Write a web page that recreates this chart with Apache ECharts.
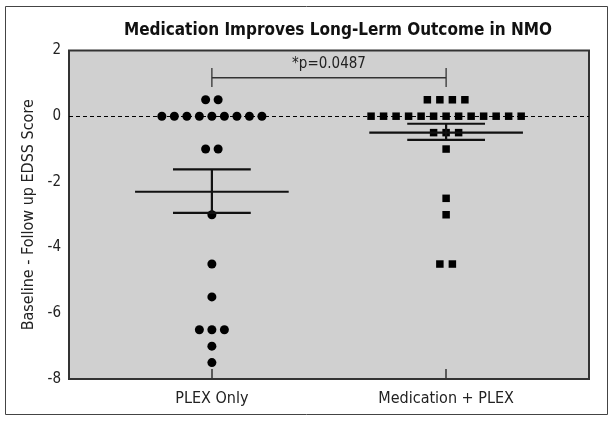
<!DOCTYPE html>
<html>
<head>
<meta charset="utf-8">
<script src="https://cdn.jsdelivr.net/npm/echarts@6/dist/echarts.min.js"></script>
<style>
html,body{margin:0;padding:0;background:#fff;}
#chart{width:613px;height:429px;}
</style>
</head>
<body>
<div id="chart"></div>
<script>
// ---- data ----
const categories = ['PLEX Only', 'Medication + PLEX'];
const plexOnly = [0.5, 0.5, 0, 0, 0, 0, 0, 0, 0, 0, 0, -1, -1, -3, -4.5, -5.5, -6.5, -6.5, -6.5, -7, -7.5];
const medPlex = [0.5, 0.5, 0.5, 0.5, 0, 0, 0, 0, 0, 0, 0, 0, 0, 0, 0, 0, 0, -0.5, -0.5, -0.5, -1, -2.5, -3, -4.5, -4.5];
const means = [-2.30, -0.50];
const semUpper = [-1.62, -0.23];
const semLower = [-2.94, -0.72];
const yTicks = [2, 0, -2, -4, -6, -8];
const pText = '*p=0.0487';
const titleText = 'Medication Improves Long-Lerm Outcome in NMO';
const yTitle = 'Baseline - Follow up EDSS Score';

const FONT = "'Liberation Sans Narrow', 'DejaVu Sans Condensed', 'Arial Narrow', sans-serif";

// beeswarm-like horizontal spread of equal values around category position
function swarm(values, catPos, step) {
  const groups = {};
  values.forEach(v => { (groups[v] = groups[v] || []).push(v); });
  const out = [];
  Object.keys(groups).forEach(k => {
    const g = groups[k];
    const n = g.length;
    g.forEach((v, i) => out.push([catPos + (i - (n - 1) / 2) * step, v]));
  });
  return out;
}
const STEP = 0.0534;

const chart = echarts.init(document.getElementById('chart'), null, {renderer: 'canvas'});

const summaryData = categories.map((c, i) => [i + 1, means[i], semUpper[i], semLower[i]]);

chart.setOption({
  animation: false,
  backgroundColor: '#ffffff',
  title: {
    text: titleText,
    left: 333,
    textAlign: 'center',
    top: 17,
    textStyle: {fontFamily: FONT, fontSize: 17, fontWeight: 'bold', color: '#111'}
  },
  graphic: [{
    type: 'rect',
    shape: {x: 5.5, y: 6.5, width: 602, height: 408},
    style: {fill: 'none', stroke: '#444', lineWidth: 1},
    silent: true,
    z: -10
  }],
  grid: {
    left: 69, right: 24, top: 50.5, bottom: 50,
    show: true, backgroundColor: '#d0d0d0', borderColor: '#333', borderWidth: 2
  },
  xAxis: {
    type: 'value',
    min: 0.39, max: 2.61,
    splitLine: {show: false},
    axisLine: {show: true, onZero: false, lineStyle: {color: '#333', width: 2}},
    axisTick: {show: true, inside: true, length: 10, customValues: [1, 2], lineStyle: {color: '#333', width: 1.5}},
    axisLabel: {
      customValues: [1, 2],
      formatter: v => categories[Math.round(v) - 1] || '',
      fontFamily: FONT, fontSize: 16, color: '#222', margin: 12
    }
  },
  yAxis: {
    type: 'value',
    min: -8, max: 2, interval: 2,
    splitLine: {show: false},
    axisLine: {show: false},
    axisTick: {show: false},
    axisLabel: {
      formatter: v => (yTicks.indexOf(v) >= 0 ? String(v) : ''),
      fontFamily: FONT, fontSize: 15, color: '#222', margin: 8
    },
    name: yTitle,
    nameLocation: 'middle',
    nameGap: 31,
    nameTextStyle: {fontFamily: FONT, fontSize: 16, color: '#222'}
  },
  series: [
    {
      type: 'scatter',
      name: categories[0],
      data: swarm(plexOnly, 1, STEP),
      symbol: 'circle',
      symbolSize: 9,
      itemStyle: {color: '#000', opacity: 1},
      z: 3,
      markLine: {
        silent: true,
        symbol: 'none',
        label: {show: false},
        lineStyle: {color: '#000', type: [4, 3], width: 1.1, opacity: 1},
        data: [{yAxis: 0}],
        z: 1
      }
    },
    {
      type: 'scatter',
      name: categories[1],
      data: swarm(medPlex, 2, STEP),
      symbol: 'rect',
      symbolSize: 7.5,
      itemStyle: {color: '#000', opacity: 1},
      z: 3
    },
    {
      type: 'custom',
      name: 'mean-sem',
      data: summaryData,
      z: 4,
      renderItem: function (params, api) {
        const x = api.value(0), m = api.value(1), up = api.value(2), lo = api.value(3);
        const MW = 0.328, CW = 0.166;
        const a = api.coord([x - MW, m]), b = api.coord([x + MW, m]);
        const c1 = api.coord([x - CW, up]), c2 = api.coord([x + CW, up]);
        const d1 = api.coord([x - CW, lo]), d2 = api.coord([x + CW, lo]);
        const v1 = api.coord([x, up]), v2 = api.coord([x, lo]);
        const st = {stroke: '#111', lineWidth: 2.2};
        return {
          type: 'group',
          children: [
            {type: 'line', shape: {x1: a[0], y1: a[1], x2: b[0], y2: b[1]}, style: st},
            {type: 'line', shape: {x1: c1[0], y1: c1[1], x2: c2[0], y2: c2[1]}, style: st},
            {type: 'line', shape: {x1: d1[0], y1: d1[1], x2: d2[0], y2: d2[1]}, style: st},
            {type: 'line', shape: {x1: v1[0], y1: v1[1], x2: v2[0], y2: v2[1]}, style: st}
          ]
        };
      }
    },
    {
      type: 'custom',
      name: 'bracket',
      data: [[1, 2]],
      z: 4,
      renderItem: function (params, api) {
        const x1 = api.value(0), x2 = api.value(1);
        const yb = 1.17, yt = 1.47, yd = 0.89, ytx = 1.58;
        const p1 = api.coord([x1, yb]), p2 = api.coord([x2, yb]);
        const l1 = api.coord([x1, yt]), l2 = api.coord([x1, yd]);
        const r1 = api.coord([x2, yt]), r2 = api.coord([x2, yd]);
        const t = api.coord([(x1 + x2) / 2, ytx]);
        const st = {stroke: '#333', lineWidth: 1.3};
        return {
          type: 'group',
          children: [
            {type: 'line', shape: {x1: p1[0], y1: p1[1], x2: p2[0], y2: p2[1]}, style: st},
            {type: 'line', shape: {x1: l1[0], y1: l1[1], x2: l2[0], y2: l2[1]}, style: st},
            {type: 'line', shape: {x1: r1[0], y1: r1[1], x2: r2[0], y2: r2[1]}, style: st},
            {type: 'text', x: t[0], y: t[1], style: {text: pText, fill: '#222', font: '15px ' + FONT, align: 'center', verticalAlign: 'middle'}}
          ]
        };
      }
    }
  ]
});
</script>
</body>
</html>
